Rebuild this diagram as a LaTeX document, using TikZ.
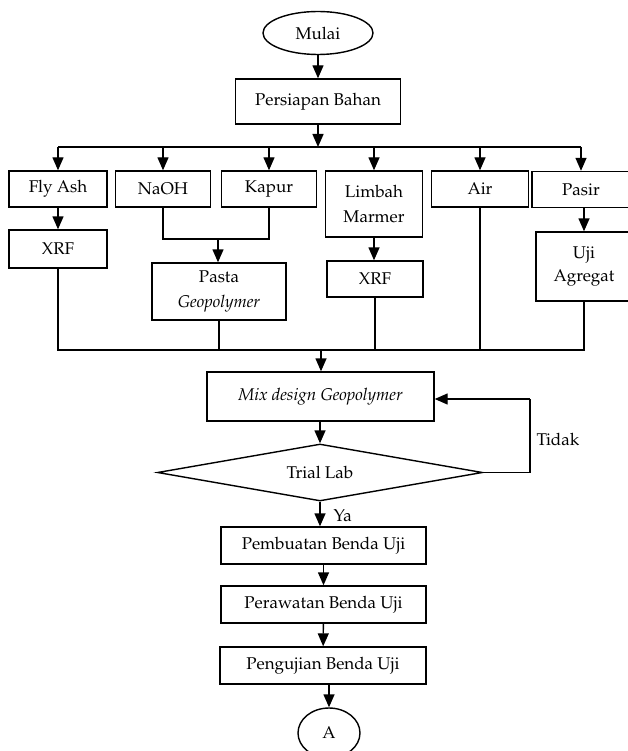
\documentclass[tikz,border=0pt]{standalone}
\usepackage[T1]{fontenc}
\usepackage{mathpazo}
\usetikzlibrary{arrows.meta,shapes.geometric,calc}
\begin{document}
\begin{tikzpicture}[x=1pt,y=-1pt,
  every node/.style={font=\fontsize{17}{20}\selectfont},
  box/.style={draw,line width=1.4pt,rectangle,inner sep=0pt,align=center},
  oval/.style={draw,line width=1.4pt,ellipse,inner sep=0pt},
  decision/.style={draw,line width=1.4pt,diamond,inner sep=0pt,aspect=5.7},
  conn/.style={line width=1.4pt},
  arr/.style={line width=1.4pt,-{Triangle[length=13pt,width=11pt]}}]
\useasboundingbox (0,0) rectangle (628,751);
\clip (0,0) rectangle (628,751);
% nodes
\node[oval,minimum width=110,minimum height=43] (mulai) at (318,33) {Mulai};
\node[box,minimum width=165,minimum height=45] (persiapan) at (318,101.5) {Persiapan Bahan};
\node[box,minimum width=98,minimum height=36] (flyash) at (58,189) {Fly Ash};
\node[box,minimum width=95,minimum height=36] (naoh) at (163,189) {NaOH};
\node[box,minimum width=95,minimum height=36] (kapur) at (269,189) {Kapur};
\node[box,minimum width=97,minimum height=66] (limbah) at (374,204) {Limbah\\[5pt]Marmer};
\node[box,minimum width=97,minimum height=36] (air) at (480,189) {Air};
\node[box,minimum width=98,minimum height=36] (pasir) at (581,189.5) {Pasir};
\node[box,minimum width=98,minimum height=38] (xrfa) at (58,249) {XRF};
\node[box,minimum width=134,minimum height=57] (pasta) at (219,291.5) {Pasta\\[5pt]\textit{Geopolymer}};
\node[box,minimum width=96,minimum height=36] (xrfb) at (375,279) {XRF};
\node[box,minimum width=96,minimum height=69] (uji) at (584,266.5) {Uji\\[3pt]Agregat};
\node[box,minimum width=227,minimum height=49] (mix) at (320.5,396.5) {\textit{Mix design Geopolymer}};
\node[decision,minimum width=325,minimum height=57] (trial) at (320,472.5) {};
\node at (320,472.5) {Trial Lab};
\node[box,minimum width=205,minimum height=37] (pembuatan) at (323.5,545.5) {Pembuatan Benda Uji};
\node[box,minimum width=205,minimum height=37] (perawatan) at (323.5,604.5) {Perawatan Benda Uji};
\node[box,minimum width=206,minimum height=37] (pengujian) at (323,665.5) {Pengujian Benda Uji};
\node[oval,minimum width=62,minimum height=50] (a) at (329,733) {A};
% coordinates
\coordinate (busone) at (318,147);
\coordinate (busL) at (58,147);
\coordinate (busR) at (581,147);
\coordinate (mergeNK) at (218,239);
\coordinate (bustwo) at (321,350);
\coordinate (b2L) at (58,350);
\coordinate (b2R) at (584,350);
\coordinate (fbA) at (530,472.5);
\coordinate (fbB) at (530,399);
% connectors
\draw[arr] (mulai) -- (persiapan);
\draw[arr] (persiapan) -- (busone);
\draw[conn] (busL) -- (busR);
\draw[arr] (busL) -- (flyash);
\draw[arr] (naoh.north |- busL) -- (naoh);
\draw[arr] (kapur.north |- busL) -- (kapur);
\draw[arr] (limbah.north |- busL) -- (limbah);
\draw[arr] (air.north |- busL) -- (air);
\draw[arr] (busR) -- (busR |- pasir.north);
\draw[arr] (flyash) -- (xrfa);
\draw[conn] (naoh.south) |- (mergeNK) -| (kapur.south);
\draw[arr] (mergeNK) -- (mergeNK |- pasta.north);
\draw[arr] (limbah) -- (limbah.south |- xrfb.north);
\draw[arr] (uji.north |- pasir.south) -- (uji);
\draw[conn] (xrfa.south) -- (b2L) -- (b2R) -- (uji.south);
\draw[conn] (pasta.south) -- (pasta.south |- b2L);
\draw[conn] (xrfb.south) -- (xrfb.south |- b2L);
\draw[conn] (air.south) -- (air.south |- b2L);
\draw[arr] (bustwo) -- (bustwo |- mix.north);
\draw[arr] (mix.south -| trial.north) -- (trial.north);
\draw[conn] (trial.east) -- (fbA) -- (fbB);
\draw[arr] (fbB) -- (fbB -| mix.east);
\node[anchor=west] at (533,439) {Tidak};
\draw[arr] (trial.south) -- (trial.south |- pembuatan.north);
\node[anchor=west] at (330,516) {Ya};
\draw[arr] (pembuatan) -- (perawatan);
\draw[arr] (perawatan) -- (pengujian);
\draw[arr] (a.north |- pengujian.south) -- (a);
\end{tikzpicture}
\end{document}
